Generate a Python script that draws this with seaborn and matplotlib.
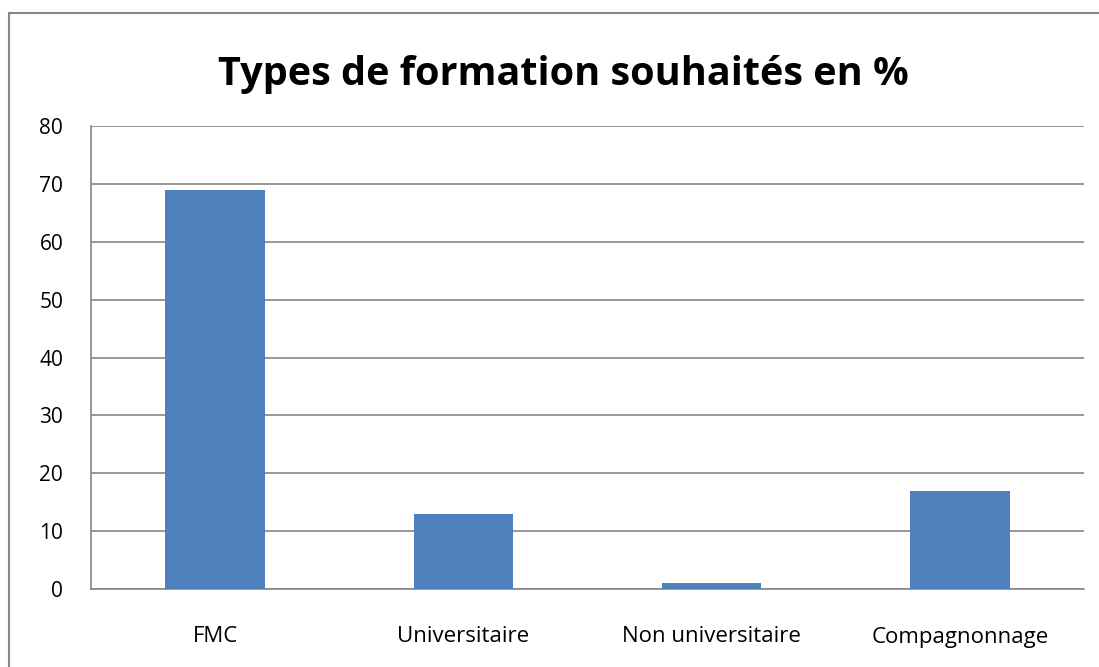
import pandas as pd
import matplotlib.pyplot as plt
import seaborn as sns
from matplotlib.patches import Rectangle

# données
categories = ['FMC', 'Universitaire', 'Non universitaire', 'Compagnonnage']
pourcentages = [69, 13, 1, 17]
y_ticks = [0, 10, 20, 30, 40, 50, 60, 70, 80]

df = pd.DataFrame({'type': categories, 'pct': pourcentages})

sns.set_style('white')
plt.rcParams['font.family'] = ['Open Sans', 'DejaVu Sans']
plt.rcParams['text.color'] = 'black'
plt.rcParams['xtick.color'] = 'black'
plt.rcParams['ytick.color'] = 'black'

fig = plt.figure(figsize=(10.99, 6.67), dpi=100)
ax = fig.add_axes([91 / 1099, 78 / 667, (1084 - 91) / 1099, (589 - 126) / 667])

sns.barplot(data=df, x='type', y='pct', color='#4F81BD', width=0.4,
            saturation=1, linewidth=0, ax=ax, zorder=3)

grid_col = '#868686'
ax.set_ylim(0, 80)
ax.set_xlim(-0.5, len(categories) - 0.5)
ax.set_yticks(y_ticks)
ax.yaxis.grid(True, color=grid_col, linewidth=1.2, zorder=0)
ax.set_xlabel('')
ax.set_ylabel('')

for s in ['top', 'right']:
    ax.spines[s].set_visible(False)
for s in ['left', 'bottom']:
    ax.spines[s].set_color(grid_col)
    ax.spines[s].set_linewidth(1.2)

# ticks majeurs aux frontières des catégories, étiquettes au centre
ax.set_xticks([i - 0.5 for i in range(len(categories) + 1)])
ax.set_xticklabels([])
ax.set_xticks(range(len(categories)), minor=True)
ax.set_xticklabels(categories, minor=True)
ax.tick_params(axis='x', which='major', length=8, color=grid_col, width=1.2, direction='out')
ax.tick_params(axis='x', which='minor', length=0, pad=27, labelsize=16, labelcolor='black')
ax.tick_params(axis='y', length=8, color=grid_col, width=1.2, direction='out',
               labelsize=15, pad=12, labelcolor='black')

fig.text(0.513, 0.888, 'Types de formation souhaités en %', ha='center', va='center',
         fontsize=28.5, fontweight='bold', color='black')

# cadre du graphique
fig.patches.append(Rectangle((9 / 1099, -0.05), 1.2, (667 - 13) / 667 + 0.05,
                             transform=fig.transFigure, fill=False,
                             edgecolor=grid_col, linewidth=1.5))

plt.savefig('out.png', dpi=100)
plt.close()
